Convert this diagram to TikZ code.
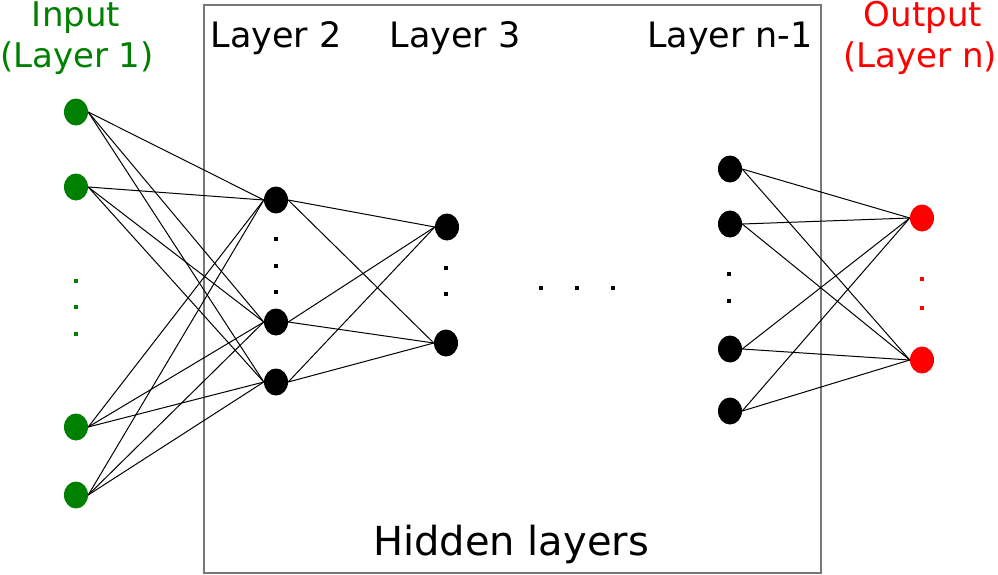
\documentclass[tikz,border=0pt]{standalone}
\usepackage{fontspec}
\setmainfont{DejaVu Sans}
\usetikzlibrary{shapes.geometric}
\definecolor{ingreen}{RGB}{0,128,0}
\definecolor{outred}{RGB}{255,0,0}
\definecolor{boxgray}{RGB}{120,120,120}
\tikzset{
  neuron/.style={ellipse, minimum width=24pt, minimum height=27pt, inner sep=0pt, draw=none},
  innode/.style={neuron, fill=ingreen},
  hidnode/.style={neuron, fill=black},
  outnode/.style={neuron, fill=outred},
  conn/.style={draw=black, line width=1pt},
  dotmark/.style={rectangle, minimum size=3.5pt, inner sep=0pt},
  lbl/.style={anchor=base, font=\fontsize{35}{40}\selectfont, inner sep=0pt},
  sidelbl/.style={anchor=base, font=\fontsize{34}{39}\selectfont, inner sep=0pt},
  biglbl/.style={anchor=base, font=\fontsize{40}{46}\selectfont, inner sep=0pt}
}
\begin{document}
\begin{tikzpicture}[x=1pt,y=-1pt]
\useasboundingbox (0,0) rectangle (998,574);
% hidden box
\node[draw=boxgray, line width=1.3pt, rectangle, inner sep=0pt, minimum width=617pt, minimum height=568pt] (box) at (512.5,289) {};
% labels
\node[sidelbl, text=ingreen] (tin1) at (76,26) {Input};
\node[sidelbl, text=ingreen] (tin2) at (77,67) {(Layer 1)};
\node[lbl] (tl2) at (276,47) {Layer 2};
\node[lbl] (tl3) at (455,47) {Layer 3};
\node[lbl] (tln) at (730,47) {Layer n-1};
\node[sidelbl, text=outred] (tout1) at (923,26) {Output};
\node[sidelbl, text=outred] (tout2) at (920,67) {(Layer n)};
\node[biglbl] (thid) at (511,555) {Hidden layers};
% input nodes
\node[innode] (i1) at (76,112) {};
\node[innode] (i2) at (76,187) {};
\node[innode] (i3) at (76,427) {};
\node[innode] (i4) at (76,495) {};
% layer 2
\node[hidnode] (a1) at (276,200) {};
\node[hidnode] (a2) at (276,322) {};
\node[hidnode] (a3) at (276,382) {};
% layer 3
\node[hidnode] (b1) at (447,227) {};
\node[hidnode] (b2) at (446,343) {};
% layer n-1
\node[hidnode] (c1) at (730,169) {};
\node[hidnode] (c2) at (730,224) {};
\node[hidnode] (c3) at (730,349) {};
\node[hidnode] (c4) at (730,411) {};
% output
\node[outnode] (o1) at (922,218) {};
\node[outnode] (o2) at (922,360) {};
% dots
\node[dotmark, fill=ingreen] (gd1) at (76,281) {};
\node[dotmark, fill=ingreen] (gd2) at (76,307) {};
\node[dotmark, fill=ingreen] (gd3) at (76,334) {};
\node[dotmark, fill=black] (ad1) at (276,239) {};
\node[dotmark, fill=black] (ad2) at (276,266) {};
\node[dotmark, fill=black] (ad3) at (276,292) {};
\node[dotmark, fill=black] (bd1) at (446,268) {};
\node[dotmark, fill=black] (bd2) at (446,294) {};
\node[dotmark, fill=black] (hd1) at (541,288) {};
\node[dotmark, fill=black] (hd2) at (577,288) {};
\node[dotmark, fill=black] (hd3) at (613,288) {};
\node[dotmark, fill=black] (cd1) at (729,274) {};
\node[dotmark, fill=black] (cd2) at (729,301) {};
\node[dotmark, fill=outred] (od1) at (922,279) {};
\node[dotmark, fill=outred] (od2) at (922,308) {};
% connections
\foreach \s in {i1,i2,i3,i4}
  \foreach \t in {a1,a2,a3}
    \draw[conn] (\s.east) -- (\t.west);
\foreach \s in {a1,a2,a3}
  \foreach \t in {b1,b2}
    \draw[conn] (\s.east) -- (\t.west);
\foreach \s in {c1,c2,c3,c4}
  \foreach \t in {o1,o2}
    \draw[conn] (\s.east) -- (\t.west);
\end{tikzpicture}
\end{document}
